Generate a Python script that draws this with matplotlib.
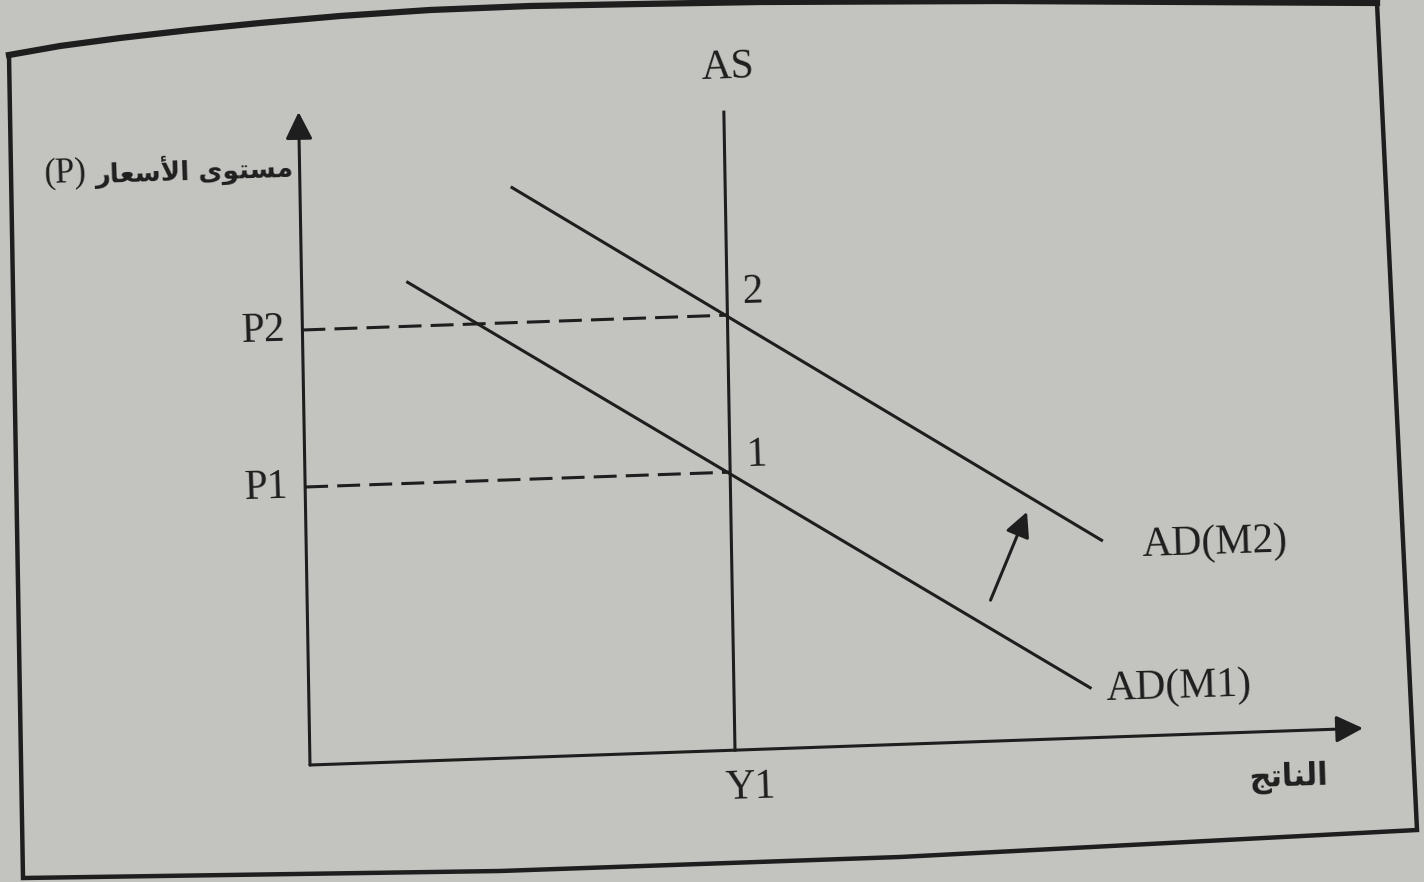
import matplotlib
matplotlib.use('Agg')
import matplotlib.pyplot as plt
from matplotlib.lines import Line2D
from matplotlib.transforms import Affine2D

# diagram values, in output (Y) / price level (P) units
x_axis_end = 10.53
y_axis_end = 6.53
y1 = 4.25
p1 = 2.78
p2 = 4.35
as_top = 6.38
ad_m1_y = [1.06, 7.81]
ad_m1_p = [4.79, 0.50]
ad_m2_y = [2.12, 7.95]
ad_m2_p = [5.70, 1.97]
shift_y = [6.83, 7.21]
shift_p = [1.41, 2.28]

# arabic labels, presentation forms in visual (left to right) order
ar_level = '\uFEEF\uFEEE\uFE98\uFEB4\uFEE3'          # مستوى
ar_prices = '\uFEAD\uFE8E\uFECC\uFEB3\uFEF7\uFE8D'   # الأسعار
ar_output = '\uFE9E\uFE97\uFE8E\uFEE8\uFEDF\uFE8D'   # الناتج
ar_p_label = ar_prices + ' ' + ar_level

ink = '#1e1e1e'
paper = '#c3c4bf'
serif = ['Liberation Serif', 'DejaVu Sans']

fig = plt.figure(figsize=(14.24, 8.82), dpi=100)
fig.patch.set_facecolor(paper)
ax = fig.add_axes([0, 0, 1, 1])
ax.set_xlim(-3.10, 11.14)
ax.set_ylim(-1.17, 7.65)
ax.axis('off')

# the photographed page is slightly skewed
ox, oy = 310, 117
tr = ax.transData + Affine2D().translate(-ox, -oy).skew_deg(-1, 2).translate(ox, oy)

lw = 2.2
head = '-|>,head_length=0.5,head_width=0.25'

# axes with arrow heads
ax.annotate('', xy=(0, y_axis_end), xytext=(0, 0), xycoords=tr, textcoords=tr,
            arrowprops=dict(arrowstyle=head, color=ink, lw=lw, mutation_scale=33,
                            shrinkA=0, shrinkB=0))
ax.annotate('', xy=(x_axis_end, 0), xytext=(0, 0), xycoords=tr, textcoords=tr,
            arrowprops=dict(arrowstyle=head, color=ink, lw=lw, mutation_scale=33,
                            shrinkA=0, shrinkB=0))

# AS and AD curves
ax.plot([y1, y1], [0, as_top], color=ink, lw=lw, transform=tr, clip_on=False)
ax.plot(ad_m1_y, ad_m1_p, color=ink, lw=lw, transform=tr, clip_on=False)
ax.plot(ad_m2_y, ad_m2_p, color=ink, lw=lw, transform=tr, clip_on=False)

# dashed guides
for p in [p1, p2]:
    ax.plot([0, y1], [p, p], color=ink, lw=lw, ls=(0, (7.5, 3)), transform=tr, clip_on=False)

# shift arrow
ax.annotate('', xy=(shift_y[1], shift_p[1]), xytext=(shift_y[0], shift_p[0]),
            xycoords=tr, textcoords=tr,
            arrowprops=dict(arrowstyle=head, color=ink, lw=lw, mutation_scale=30,
                            shrinkA=0, shrinkB=0))

txt = dict(transform=tr, color=ink, family=serif, fontsize=30,
           rotation=1.8, rotation_mode='anchor')
ax.text(4.30, 6.82, 'AS', ha='center', va='center', **txt)
ax.text(4.50, 4.57, '2', ha='center', va='center', **txt)
ax.text(4.52, 2.94, '1', ha='center', va='center', **txt)
ax.text(-0.17, p2, 'P2', ha='right', va='center', **txt)
ax.text(-0.17, p1, 'P1', ha='right', va='center', **txt)
ax.text(4.40, -0.38, 'Y1', ha='center', va='center', **txt)
ax.text(8.35, 1.90, 'AD(M2)', ha='left', va='center', **txt)
ax.text(7.97, 0.47, 'AD(M1)', ha='left', va='center', **txt)

ar = dict(transform=tr, color=ink, family=['DejaVu Sans'],
          fontweight='bold', rotation=1.8, rotation_mode='anchor')
t_p = ax.text(-0.07, 5.98, ar_p_label, ha='right', va='center', fontsize=19, **ar)
ax.annotate('(P)', xy=(0, 0.42), xycoords=t_p, xytext=(-5, 0), textcoords='offset points',
            ha='right', va='center', color=ink, family=serif, fontsize=25, rotation=1.8)
ax.text(10.18, -0.46, ar_output, ha='right', va='center', fontsize=22, **ar)

# page frame around the figure
def fpts(pts):
    return [x / 1424 for x, _ in pts], [1 - y / 882 for _, y in pts]

top = [(9, 55), (60, 46), (120, 38), (190, 30), (260, 23), (340, 16), (430, 10),
       (530, 6), (640, 4), (760, 2), (1000, 1), (1377, 3)]
rest = [(1377, 3), (1417, 830), (900, 857), (500, 871), (23, 878), (9, 55)]
xs, ys = fpts(top)
fig.add_artist(Line2D(xs, ys, transform=fig.transFigure, color=ink, lw=4.5,
                      solid_joinstyle='round'))
xs, ys = fpts(rest)
fig.add_artist(Line2D(xs, ys, transform=fig.transFigure, color=ink, lw=3.2,
                      solid_joinstyle='miter'))

fig.savefig('out.png', dpi=100, facecolor=paper)
